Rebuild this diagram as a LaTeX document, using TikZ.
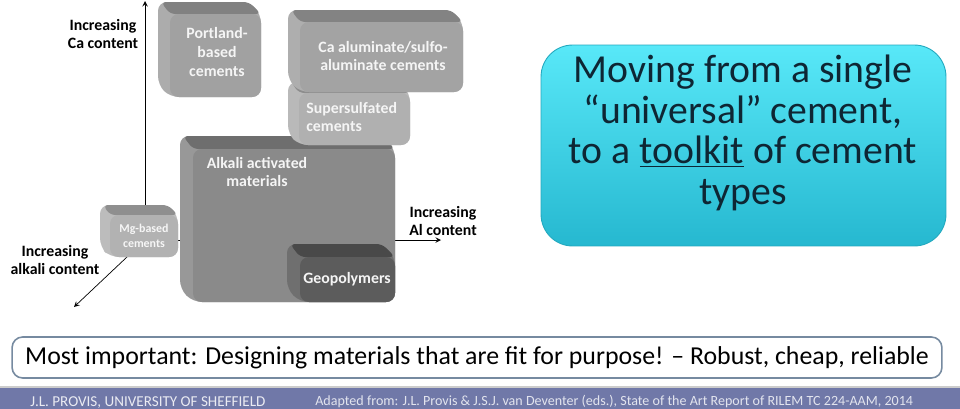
\documentclass[tikz,border=0pt]{standalone}
\usepackage{fontspec}
\setmainfont{Carlito}
\usetikzlibrary{calc}

\definecolor{footblue}{RGB}{112,120,168}
\definecolor{cyantop}{RGB}{88,232,248}
\definecolor{cyanbot}{RGB}{38,184,208}
\definecolor{navytext}{RGB}{14,38,52}
\definecolor{keyframe}{RGB}{118,138,160}

% x1, y1, x2, y2, depth, colour
\newcommand{\cementblock}[6]{%
  \colorlet{blkbase}{#6}%
  \fill[blkbase!88!white, rounded corners=5pt] (#1,#2) -- (#3-#5,#2) -- (#3,#2+#5) -- (#3,#4) -- (#1+#5,#4) -- (#1,#4-#5) -- cycle;
  \fill[blkbase!80!black, rounded corners=3pt] (#1+3,#2) -- (#3-#5,#2) -- (#3,#2+#5) -- (#1+#5,#2+#5) -- cycle;
  \fill[blkbase, rounded corners=5pt] (#1+#5,#2+#5) rectangle (#3,#4);
}

\begin{document}
\begin{tikzpicture}[x=0.02cm, y=-0.02cm, >=stealth, line join=round,
    lbl/.style={font=\fontsize{9}{10.3}\selectfont\bfseries, align=center},
    blktxt/.style={font=\fontsize{9}{10.8}\selectfont\bfseries, text=white!92!gray, align=center, inner sep=0pt}]
    \useasboundingbox (0,0) rectangle (960,409);
    \clip (0,0) rectangle (960,409);
    \fill[white] (0,0) rectangle (960,409);

    \coordinate (O) at (145,240);
    \coordinate (Ca) at (145,1);
    \coordinate (Al) at (441,240);
    \coordinate (Alk) at (74,307);

    \draw[->, thin] (O) -- (Ca);
    \draw[->, thin] (O) -- (Al);
    \draw[->, thin] (O) -- (Alk);

    \cementblock{100}{205}{178}{257}{10}{black!30}
    \cementblock{180}{136}{395}{302}{13}{black!46}
    \cementblock{287}{244}{395}{302}{13}{black!64}
    \cementblock{288}{82}{410}{145}{11}{black!31}
    \cementblock{288}{10}{463}{92}{12}{black!36}
    \cementblock{158}{2}{261}{97}{12}{black!37}

    \node[lbl] (calbl) at (103,34) {Increasing\\Ca content};
    \node[lbl] (allbl) at (443,221) {Increasing\\Al content};
    \node[lbl] (alklbl) at (55,260) {Increasing\\alkali content};

    \node[blktxt] (portland) at (217,52) {Portland-\\based\\cements};
    \node[blktxt] (caal) at (383,56) {Ca aluminate/sulfo-\\aluminate cements};
    \node[blktxt, align=left, anchor=west] (supers) at (306,117) {Supersulfated\\cements};
    \node[blktxt] (aam) at (257,172) {Alkali activated\\materials};
    \node[blktxt, font=\fontsize{6.8}{8.4}\selectfont\bfseries, text=white!93!gray] (mg) at (144,236) {Mg-based\\cements};
    \node[blktxt] (geo) at (347,279) {Geopolymers};

    \node[draw=cyanbot!92!black, line width=0.5pt, rounded corners=18pt, top color=cyantop, bottom color=cyanbot,
          minimum width=8.1cm, minimum height=4.02cm] (msg) at (743.5,145.5) {};
    \node[align=center, text=navytext, font=\fontsize{22.6}{23}\selectfont] (msgtxt) at (743,133)
        {Moving from a single\\“universal” cement,\\to a \underline{toolkit} of cement\\types};

    \node[draw=keyframe, line width=0.9pt, rounded corners=6pt, fill=white,
          minimum width=18.6cm, minimum height=0.82cm, font=\fontsize{14.7}{17}\selectfont] (keynote) at (477,357.5)
        {Most important: Designing materials that are fit for purpose! – Robust, cheap, reliable};

    \fill[footblue] (0,388) rectangle (960,409);
    \draw[black!20, line width=1pt] (0,387) -- (960,387);
    \node[anchor=base west, text=white!85!footblue, font=\fontsize{8.6}{10}\selectfont, inner sep=0pt] (author) at (30,406)
        {J.L. PROVIS, UNIVERSITY OF SHEFFIELD};
    \node[anchor=base west, text=white!80!footblue, font=\fontsize{8}{10}\selectfont, inner sep=0pt] (source) at (315,405)
        {Adapted from: J.L. Provis \& J.S.J. van Deventer (eds.), State of the Art Report of RILEM TC 224-AAM, 2014};
\end{tikzpicture}
\end{document}
